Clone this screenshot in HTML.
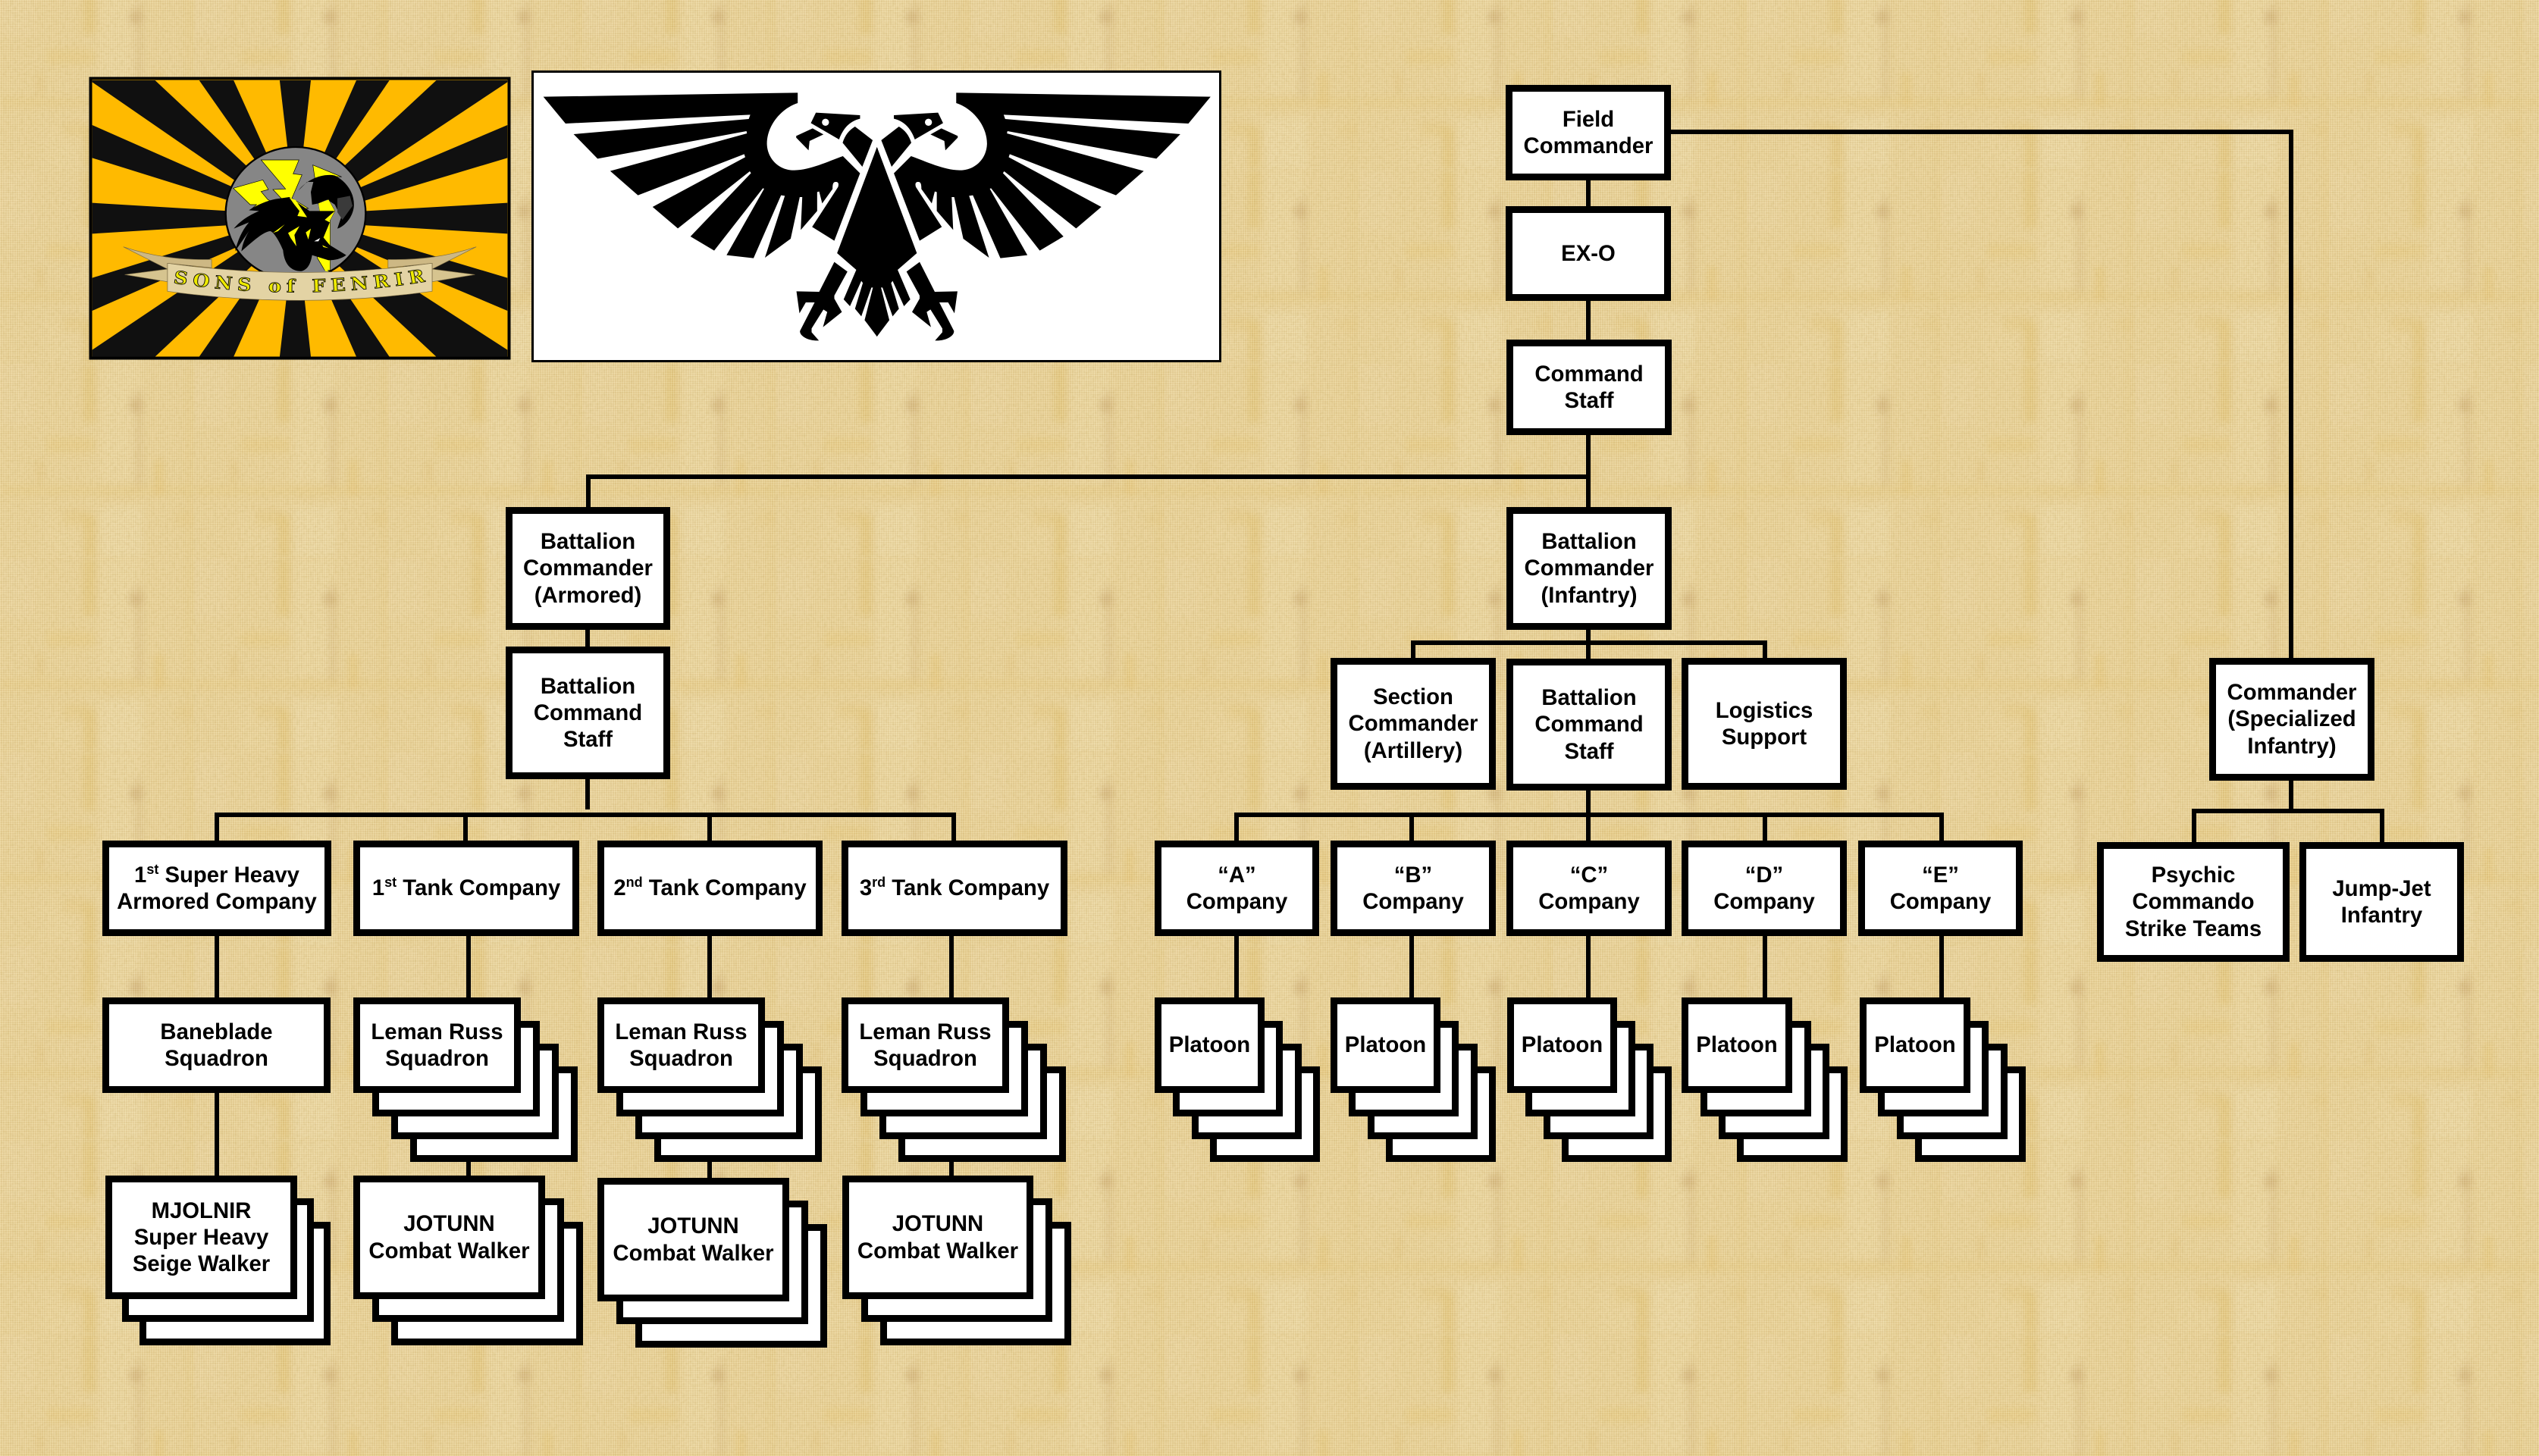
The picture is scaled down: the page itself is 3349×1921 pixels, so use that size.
<!DOCTYPE html>
<html><head><meta charset="utf-8"><title>Sons of Fenrir Organization</title>
<style>
html,body{margin:0;padding:0;width:3349px;height:1921px;overflow:hidden;background:#e9d19a}
#bg,#weave,#art{position:absolute;left:0;top:0;width:3349px;height:1921px}
#weave{background:repeating-linear-gradient(90deg,rgba(255,246,205,.16) 0 1px,rgba(175,135,60,.06) 1px 3px),repeating-linear-gradient(0deg,rgba(255,246,205,.13) 0 1px,rgba(175,135,60,.06) 1px 3px)}
.n{position:absolute;box-sizing:border-box;border:9px solid #000;background:#fff;display:flex;align-items:center;justify-content:center;text-align:center;font:bold 29.3px/35.2px "Liberation Sans",Arial,sans-serif;color:#000;white-space:nowrap}
.n sup{font-size:18px;line-height:0;vertical-align:baseline;position:relative;top:-11px}
</style></head><body>
<svg id="bg" viewBox="0 0 3349 1921" xmlns="http://www.w3.org/2000/svg">
<defs>
<filter id="b" x="-40%" y="-40%" width="180%" height="180%"><feGaussianBlur stdDeviation="5"/></filter>
<filter id="nz" x="0" y="0" width="100%" height="100%"><feTurbulence type="fractalNoise" baseFrequency="0.22 0.3" numOctaves="2" seed="4"/><feColorMatrix values="0 0 0 0 .62  0 0 0 0 .46  0 0 0 0 .16  1.1 0 0 0 -.42"/></filter>
<pattern id="tile" width="256" height="256" patternUnits="userSpaceOnUse" patternTransform="translate(0,480)">
<rect width="256" height="256" fill="#ead49d"/>
<g filter="url(#b)">
<rect x="131" y="0" width="53" height="157" fill="#f0dfb0" opacity=".4"/>
<rect x="131" y="187" width="56" height="69" fill="#f0e0b4" opacity=".5"/>
<rect x="0" y="0" width="45" height="80" fill="#eddcaf" opacity=".3"/>
<rect x="60" y="200" width="50" height="56" fill="#eedba8" opacity=".25"/>
<rect x="110" y="0" width="17" height="77" fill="#e2c273" opacity=".55"/>
<rect x="110" y="200" width="17" height="56" fill="#e2c273" opacity=".55"/>
<rect x="171" y="47" width="17" height="16" fill="#c8a870" opacity=".6"/>
<rect x="178" y="33" width="9" height="134" fill="#cfb077" opacity=".4"/>
<rect x="0" y="160" width="256" height="14" fill="#e6cb86" opacity=".45"/>
<rect x="61" y="97" width="66" height="20" fill="#e6c77b" opacity=".4"/>
<rect x="204" y="127" width="12" height="46" fill="#e6c474" opacity=".55"/>
<rect x="49" y="127" width="8" height="30" fill="#dfc078" opacity=".5"/>
<rect x="245" y="0" width="11" height="256" fill="#e4c880" opacity=".35"/>
<rect x="82" y="193" width="36" height="20" fill="#e4c67c" opacity=".4"/>
<rect x="230" y="195" width="26" height="18" fill="#e5c880" opacity=".35"/>
</g>
</pattern>
</defs>
<rect width="3349" height="1921" fill="url(#tile)"/>
<rect width="3349" height="1921" filter="url(#nz)" opacity=".55"/>
</svg>
<div id="weave"></div>

<svg id="art" viewBox="0 0 3349 1921" xmlns="http://www.w3.org/2000/svg">
<!-- connectors -->
<g fill="#000">
<rect x="2092" y="238" width="6" height="431"/>
<rect x="773" y="626" width="1325" height="6"/>
<rect x="773" y="626" width="6" height="45"/>
<rect x="2204" y="171" width="821" height="6"/>
<rect x="3019" y="171" width="6" height="697"/>
<rect x="772" y="829" width="6" height="25"/>
<rect x="772" y="1028" width="6" height="40"/>
<rect x="283" y="1072" width="978" height="6"/>
<rect x="283" y="1072" width="6" height="244"/>
<rect x="611" y="1072" width="6" height="37"/>
<rect x="933" y="1072" width="6" height="37"/>
<rect x="1255" y="1072" width="6" height="37"/>
<rect x="283" y="1442" width="6" height="110"/>
<rect x="615" y="1235" width="6" height="82"/>
<rect x="933" y="1235" width="6" height="82"/>
<rect x="1252" y="1235" width="6" height="82"/>
<rect x="615" y="1533" width="6" height="19"/>
<rect x="933" y="1533" width="6" height="22"/>
<rect x="1252" y="1533" width="6" height="19"/>
<rect x="2092" y="831" width="6" height="38"/>
<rect x="1861" y="845" width="470" height="6"/>
<rect x="1861" y="845" width="6" height="24"/>
<rect x="2325" y="845" width="6" height="24"/>
<rect x="2092" y="1043" width="6" height="67"/>
<rect x="1628" y="1072" width="936" height="6"/>
<rect x="1628" y="1072" width="6" height="38"/>
<rect x="1859" y="1072" width="6" height="38"/>
<rect x="2325" y="1072" width="6" height="38"/>
<rect x="2558" y="1072" width="6" height="38"/>
<rect x="1628" y="1235" width="6" height="82"/>
<rect x="1859" y="1235" width="6" height="82"/>
<rect x="2092" y="1235" width="6" height="82"/>
<rect x="2325" y="1235" width="6" height="82"/>
<rect x="2558" y="1235" width="6" height="82"/>
<rect x="3019" y="1030" width="6" height="38"/>
<rect x="2891" y="1067" width="254" height="6"/>
<rect x="2891" y="1067" width="6" height="44"/>
<rect x="3139" y="1067" width="6" height="44"/>
</g>

<!-- flag -->
<rect x="119.5" y="103.5" width="552" height="369" fill="#ffba00" stroke="#000" stroke-width="4"/>
<g transform="translate(110,95) scale(.36364,.33333)">
<g fill="#101010">
<polygon points="926,713 32,40 32,33 260,33"/>
<polygon points="954,654 32,210 32,340"/>
<polygon points="954,578 32,518 32,640"/>
<polygon points="954,502 32,815 32,945"/>
<polygon points="926,444 32,1100 32,1127 260,1127"/>
<polygon points="770,578 420,1127 545,1127"/>
<polygon points="770,578 712,1127 825,1127"/>
<polygon points="770,578 990,1127 1110,1127"/>
<polygon points="610,444 1280,1127 1538,1127 1538,1100"/>
<polygon points="578,502 1538,945 1538,815"/>
<polygon points="578,578 1538,640 1538,518"/>
<polygon points="578,654 1538,340 1538,210"/>
<polygon points="610,713 1538,40 1538,33 1280,33"/>
<polygon points="770,578 1110,33 990,33"/>
<polygon points="770,578 825,33 712,33"/>
<polygon points="770,578 545,33 420,33"/>
</g>
</g>
<!-- emblem -->
<g transform="translate(285,190) scale(.33333)">
<ellipse cx="315" cy="275" rx="277" ry="263" fill="#868686" stroke="#000" stroke-width="7"/>
<g fill="#ffff00" stroke="#000" stroke-width="2">
<polygon points="178,63 328,63 305,118 340,122 300,215 365,255 300,260 225,180 275,178"/>
<polygon points="68,175 185,142 207,180 178,188 205,220 225,230 135,262 160,240 135,240"/>
<polygon points="383,83 497,130 430,125 405,170 405,240 445,220 470,265 452,300 452,500 430,500 400,450 420,330"/>
</g>
<path d="M325,185 C360,140 420,115 470,125 C520,150 550,200 545,250 C540,290 510,325 480,335 L495,290 L470,240 L440,220 L405,235 L380,240 L375,190 L385,150 L360,150 Z" fill="#000"/>
<polygon points="405,235 445,220 470,265 452,300 410,265" fill="#ffff00"/>
<polygon points="480,215 530,205 540,245 500,300 480,270" fill="#3a3a3a"/>
<path d="M70,335 C95,305 125,285 170,265 L130,262 C165,240 200,225 235,218 L290,210 L370,265 L470,265 L430,300 L450,310 L425,370 L450,400 L515,440 C495,455 470,460 445,460 L380,440 C375,470 365,495 340,503 C300,505 270,480 265,420 C250,385 230,350 215,345 C190,345 145,385 100,425 C105,395 115,370 130,345 L75,425 C85,385 100,345 130,310 Z" fill="#000"/>
<polygon points="225,352 272,318 245,345" fill="#ffff00"/>
<polygon points="285,352 330,325 310,360 318,405 295,372" fill="#ffff00"/>
<polygon points="355,350 375,335 365,378" fill="#ffff00"/>
<polygon points="290,212 315,222 360,290 322,285 330,265 310,240" fill="#ffff00"/>
<polygon points="388,385 412,372 405,385" fill="#fff"/>
<polygon points="408,455 445,505 432,503" fill="#ffff00"/>
<polygon points="420,400 445,412 425,408" fill="#ffff00"/>
</g>
<!-- banner -->
<g transform="translate(110,95) scale(.36364,.33333)">
<g fill="#d6c48f" stroke="#7c6c45" stroke-width="2">
<path d="M145,692 C250,730 350,745 465,742 L465,775 L305,757 L305,780 Z" fill="#cdb884"/>
<path d="M150,802 L305,780 L305,830 Z"/>
<path d="M1425,692 C1320,730 1220,745 1105,742 L1105,775 L1265,757 L1265,780 Z" fill="#cdb884"/>
<path d="M1420,802 L1265,780 L1265,830 Z"/>
<path d="M305,757 Q785,830 1265,757 L1265,868 Q785,940 305,868 Z" fill="#e3d3a4"/>
</g>
<path id="bn" d="M325,835 Q785,912 1250,828" fill="none"/>
<text font-family="'DejaVu Serif','Liberation Serif',serif" font-weight="bold" font-size="70" fill="#eeea00" stroke="#000" stroke-width="2.5" textLength="920"><textPath href="#bn">SONS of FENRIR</textPath></text>
</g>

<!-- eagle -->
<rect x="702.5" y="94.5" width="907" height="382" fill="#fff" stroke="#000" stroke-width="3"/>
<g transform="translate(700,90) scale(.3329,.33333)">
<g id="half" fill="#000">
<path d="M50,113 L1058,97 L1058,138 C990,160 935,230 936,300 C938,360 985,405 1045,404 C1110,402 1175,370 1237,348 L1305,416 L1203,683 L1115,628 L1218,470 C1222,455 1218,450 1208,450 C1198,450 1196,460 1196,478 L1155,535 L1143,488 L1135,490 L1135,565 L1070,640 L1076,510 L1066,510 L1030,675 L928,750 L1007,505 L992,503 L883,752 L776,740 L925,477 L920,475 L727,722 L633,666 L873,415 L868,408 L583,634 L483,549 L850,352 L846,340 L425,503 L315,407 L857,258 L855,249 L265,358 L170,261 L864,201 L870,184 L138,219 Z"/>
<path d="M1130,176 L1305,186 L1305,200 C1260,210 1235,245 1222,282 L1110,217 Z M1154,214 A14,14 0 1 0 1182,214 A14,14 0 1 0 1154,214 Z" fill-rule="evenodd"/>
<path d="M1052,268 L1117,238 L1160,262 L1105,288 L1101,325 L1052,275 Z"/>
<path d="M1285,231 L1355,285 L1314,390 L1236,295 C1245,265 1262,245 1285,231 Z"/>
<path d="M1372,312 L1375,320 L1375,1058 L1372,1062 L1323,997 L1356,868 L1350,868 L1310,982 L1285,952 L1316,850 L1310,842 L1265,942 L1240,915 L1290,798 L1214,732 Z"/>
<path d="M1203,767 L1255,805 L1203,900 L1203,912 L1233,965 L1158,1025 L1175,965 L1160,955 L1113,1030 L1113,1045 L1142,1078 C1100,1080 1065,1060 1067,1040 L1125,927 L1090,927 L1065,970 L1053,883 L1143,885 Z"/>
</g>
<use href="#half" transform="translate(2744,0) scale(-1,1)"/>
</g>
</svg>

<!-- top chain -->
<div class="n" style="left:1986px;top:112px;width:218px;height:126px">Field<br>Commander</div>
<div class="n" style="left:1986px;top:272px;width:218px;height:125px">EX-O</div>
<div class="n" style="left:1987px;top:448px;width:218px;height:126px">Command<br>Staff</div>
<div class="n" style="left:667px;top:669px;width:217px;height:162px">Battalion<br>Commander<br>(Armored)</div>
<div class="n" style="left:667px;top:853px;width:217px;height:175px">Battalion<br>Command<br>Staff</div>
<div class="n" style="left:1987px;top:669px;width:218px;height:162px">Battalion<br>Commander<br>(Infantry)</div>
<div class="n" style="left:1755px;top:868px;width:218px;height:174px">Section<br>Commander<br>(Artillery)</div>
<div class="n" style="left:1987px;top:869px;width:218px;height:174px">Battalion<br>Command<br>Staff</div>
<div class="n" style="left:2218px;top:868px;width:218px;height:174px">Logistics<br>Support</div>
<div class="n" style="left:2914px;top:868px;width:218px;height:162px">Commander<br>(Specialized<br>Infantry)</div>
<div class="n" style="left:2766px;top:1111px;width:254px;height:158px">Psychic<br>Commando<br>Strike Teams</div>
<div class="n" style="left:3033px;top:1111px;width:217px;height:158px">Jump-Jet<br>Infantry</div>

<!-- armored companies -->
<div class="n" style="left:135px;top:1109px;width:302px;height:126px"><span>1<sup>st</sup> Super Heavy<br>Armored Company</span></div>
<div class="n" style="left:466px;top:1109px;width:298px;height:126px"><span>1<sup>st</sup> Tank Company</span></div>
<div class="n" style="left:788px;top:1109px;width:297px;height:126px"><span>2<sup>nd</sup> Tank Company</span></div>
<div class="n" style="left:1110px;top:1109px;width:298px;height:126px"><span>3<sup>rd</sup> Tank Company</span></div>
<div class="n" style="left:135px;top:1316px;width:301px;height:126px">Baneblade<br>Squadron</div>

<div class="n" style="left:541px;top:1407px;width:221px;height:126px"></div>
<div class="n" style="left:516px;top:1377px;width:221px;height:126px"></div>
<div class="n" style="left:491px;top:1347px;width:221px;height:126px"></div>
<div class="n" style="left:466px;top:1316px;width:221px;height:126px">Leman Russ<br>Squadron</div>

<div class="n" style="left:863px;top:1407px;width:221px;height:126px"></div>
<div class="n" style="left:838px;top:1377px;width:221px;height:126px"></div>
<div class="n" style="left:813px;top:1347px;width:221px;height:126px"></div>
<div class="n" style="left:788px;top:1316px;width:221px;height:126px">Leman Russ<br>Squadron</div>

<div class="n" style="left:1185px;top:1407px;width:221px;height:126px"></div>
<div class="n" style="left:1160px;top:1377px;width:221px;height:126px"></div>
<div class="n" style="left:1135px;top:1347px;width:221px;height:126px"></div>
<div class="n" style="left:1110px;top:1316px;width:221px;height:126px">Leman Russ<br>Squadron</div>

<div class="n" style="left:184px;top:1612px;width:252px;height:163px"></div>
<div class="n" style="left:161px;top:1581px;width:253px;height:163px"></div>
<div class="n" style="left:139px;top:1551px;width:253px;height:163px">MJOLNIR<br>Super Heavy<br>Seige Walker</div>

<div class="n" style="left:516px;top:1612px;width:253px;height:163px"></div>
<div class="n" style="left:491px;top:1581px;width:253px;height:163px"></div>
<div class="n" style="left:466px;top:1551px;width:253px;height:163px">JOTUNN<br>Combat Walker</div>

<div class="n" style="left:838px;top:1615px;width:253px;height:163px"></div>
<div class="n" style="left:813px;top:1584px;width:253px;height:163px"></div>
<div class="n" style="left:788px;top:1554px;width:253px;height:163px">JOTUNN<br>Combat Walker</div>

<div class="n" style="left:1161px;top:1612px;width:252px;height:163px"></div>
<div class="n" style="left:1136px;top:1581px;width:252px;height:163px"></div>
<div class="n" style="left:1111px;top:1551px;width:252px;height:163px">JOTUNN<br>Combat Walker</div>

<!-- infantry companies -->
<div class="n" style="left:1523px;top:1109px;width:217px;height:126px">“A”<br>Company</div>
<div class="n" style="left:1755px;top:1109px;width:218px;height:126px">“B”<br>Company</div>
<div class="n" style="left:1987px;top:1109px;width:218px;height:126px">“C”<br>Company</div>
<div class="n" style="left:2218px;top:1109px;width:218px;height:126px">“D”<br>Company</div>
<div class="n" style="left:2451px;top:1109px;width:217px;height:126px">“E”<br>Company</div>

<div class="n" style="left:1596px;top:1407px;width:145px;height:126px"></div>
<div class="n" style="left:1572px;top:1377px;width:145px;height:126px"></div>
<div class="n" style="left:1547px;top:1347px;width:145px;height:126px"></div>
<div class="n" style="left:1523px;top:1316px;width:145px;height:126px">Platoon</div>

<div class="n" style="left:1828px;top:1407px;width:145px;height:126px"></div>
<div class="n" style="left:1804px;top:1377px;width:145px;height:126px"></div>
<div class="n" style="left:1779px;top:1347px;width:145px;height:126px"></div>
<div class="n" style="left:1755px;top:1316px;width:145px;height:126px">Platoon</div>

<div class="n" style="left:2060px;top:1407px;width:145px;height:126px"></div>
<div class="n" style="left:2036px;top:1377px;width:145px;height:126px"></div>
<div class="n" style="left:2012px;top:1347px;width:145px;height:126px"></div>
<div class="n" style="left:1988px;top:1316px;width:145px;height:126px">Platoon</div>

<div class="n" style="left:2291px;top:1407px;width:146px;height:126px"></div>
<div class="n" style="left:2267px;top:1377px;width:146px;height:126px"></div>
<div class="n" style="left:2243px;top:1347px;width:146px;height:126px"></div>
<div class="n" style="left:2218px;top:1316px;width:146px;height:126px">Platoon</div>

<div class="n" style="left:2526px;top:1407px;width:146px;height:126px"></div>
<div class="n" style="left:2502px;top:1377px;width:146px;height:126px"></div>
<div class="n" style="left:2477px;top:1347px;width:146px;height:126px"></div>
<div class="n" style="left:2453px;top:1316px;width:146px;height:126px">Platoon</div>
</body></html>
